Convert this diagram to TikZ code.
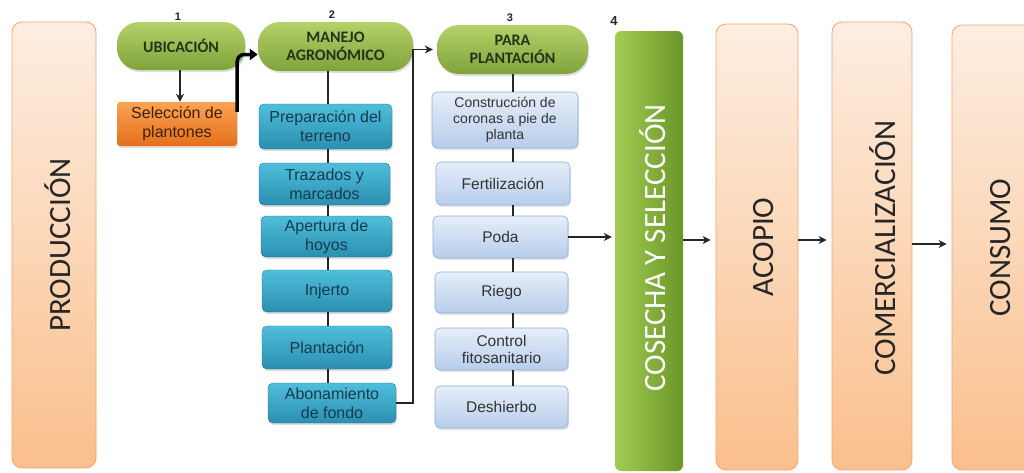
\documentclass[tikz,border=0pt]{standalone}
\usepackage{fontspec}
\setmainfont{Liberation Sans}
\newfontfamily\carl{Carlito}
\usetikzlibrary{arrows.meta,shadows}
\definecolor{peachT}{HTML}{FDEEE2}
\definecolor{peachB}{HTML}{FABF8C}
\definecolor{peachD}{HTML}{F2A66A}
\definecolor{greenT}{HTML}{B5D16A}
\definecolor{greenB}{HTML}{7FA33A}
\definecolor{greenTxt}{HTML}{26331A}
\definecolor{cosL}{HTML}{A3CC52}
\definecolor{cosR}{HTML}{6A962A}
\definecolor{orgT}{HTML}{F9A355}
\definecolor{orgB}{HTML}{E5701A}
\definecolor{tealT}{HTML}{4FBEDB}
\definecolor{tealB}{HTML}{2A8FB0}
\definecolor{tealTxt}{HTML}{173A4E}
\definecolor{lbT}{HTML}{E6EEF9}
\definecolor{lbB}{HTML}{B7CDEB}
\definecolor{lbD}{HTML}{8FAED6}
\tikzset{
  tall/.style={rectangle, rounded corners=10pt, draw=peachD, line width=0.8pt, top color=peachT, bottom color=peachB, minimum width=#1},
  bigtxt/.style={rotate=90, font=\carl\fontsize{31}{33}\selectfont, text=black!85},
  pill/.style={rectangle, rounded corners=22pt, top color=greenT, bottom color=greenB, font=\carl\bfseries\fontsize{16}{18}\selectfont, text=greenTxt, align=center, drop shadow={opacity=0.25, shadow xshift=1pt, shadow yshift=-2pt}},
  teal/.style={rectangle, rounded corners=5pt, top color=tealT, bottom color=tealB, draw=tealB!80!black, line width=0.4pt, font=\fontsize{16}{19}\selectfont, text=tealTxt, align=center, inner sep=2pt, drop shadow={opacity=0.25, shadow xshift=1pt, shadow yshift=-2pt}},
  lblue/.style={rectangle, rounded corners=5pt, top color=lbT, bottom color=lbB, draw=lbD, line width=0.6pt, font=\fontsize{15.5}{17}\selectfont, text=black!80, align=center, inner sep=2pt, drop shadow={opacity=0.2, shadow xshift=1pt, shadow yshift=-2pt}},
  orgbox/.style={rectangle, rounded corners=3pt, top color=orgT, bottom color=orgB, font=\fontsize{16}{19}\selectfont, text=black!75!orange, align=center, inner sep=2pt, drop shadow={opacity=0.25, shadow xshift=1pt, shadow yshift=-2pt}},
  num/.style={font=\bfseries\fontsize{11}{12}\selectfont, text=black!85},
  conn/.style={line width=1.5pt, draw=black!85},
  arr/.style={line width=1.5pt, draw=black!85, -{Stealth[length=8pt,width=8pt,inset=2.5pt]}},
}
\begin{document}
\begin{tikzpicture}[x=1pt,y=-1pt]
\useasboundingbox (0,0) rectangle (1024,472);
\fill[white] (0,0) rectangle (1024,472);
\clip (0,0) rectangle (1024,472);

% tall boxes
\node[tall=84pt, minimum height=446pt] (prod) at (54,245) {};
\node[bigtxt] (prodl) at (58,245) {PRODUCCIÓN};
\node[rectangle, rounded corners=6pt, left color=cosL, right color=cosR, minimum width=68pt, minimum height=440pt] (cos) at (649,251) {};
\node[bigtxt, text=white] (cosl) at (653,248) {COSECHA Y SELECCIÓN};
\node[tall=82pt, minimum height=446pt] (aco) at (757,247) {};
\node[bigtxt] (acol) at (764,247) {ACOPIO};
\node[tall=80pt, minimum height=448pt] (com) at (872,246) {};
\node[bigtxt] (coml) at (883,248) {COMERCIALIZACIÓN};
\node[tall=90pt, minimum height=445pt] (con) at (997,247.5) {};
\node[bigtxt] (conl) at (1001,247.5) {CONSUMO};

% column 1
\node[pill, minimum width=128pt, minimum height=48pt] (ubi) at (181,46) {UBICACIÓN};
\node[orgbox, minimum width=120pt, minimum height=44pt] (sel) at (177,124) {Selección de\\plantones};
\node[num] (n1) at (178,17) {1};

% column 2
\node[pill, minimum width=155pt, minimum height=49pt] (man) at (335.5,46.5) {MANEJO\\AGRONÓMICO};
\node[num] (n2) at (332,15) {2};
\node[teal, minimum width=133pt, minimum height=45pt] (prep) at (325.5,126.5) {Preparación del\\terreno};
\node[teal, minimum width=131pt, minimum height=42pt] (traz) at (324.5,184) {Trazados y\\marcados};
\node[teal, minimum width=131pt, minimum height=41pt] (aper) at (326.5,236.5) {Apertura de\\hoyos};
\node[teal, minimum width=130pt, minimum height=42pt] (inj) at (327,291) {Injerto};
\node[teal, minimum width=130pt, minimum height=43pt] (plan) at (327,347.5) {Plantación};
\node[teal, minimum width=128pt, minimum height=40pt] (abon) at (332,403) {Abonamiento\\de fondo};

% column 3
\node[pill, minimum width=151pt, minimum height=49pt] (para) at (512.5,49.5) {PARA\\PLANTACIÓN};
\node[num] (n3) at (510,18) {3};
\node[num, font=\bfseries\fontsize{13}{14}\selectfont] (n4) at (614,21) {4};
\node[lblue, minimum width=146pt, minimum height=56pt, font=\fontsize{14}{16}\selectfont] (cons) at (505,120) {Construcción de\\coronas a pie de\\planta};
\node[lblue, minimum width=134pt, minimum height=43pt] (fert) at (503,183.5) {Fertilización};
\node[lblue, minimum width=135pt, minimum height=42pt] (poda) at (500.5,237) {Poda};
\node[lblue, minimum width=133pt, minimum height=41pt] (riego) at (501.5,292.5) {Riego};
\node[lblue, minimum width=133pt, minimum height=42pt] (ctrl) at (501.5,349) {Control\\fitosanitario};
\node[lblue, minimum width=133pt, minimum height=42pt] (desh) at (501.5,407) {Deshierbo};

% connectors column 2
\coordinate (mx) at (328,0);
\draw[conn] (man.south -| mx) -- (prep.north -| mx);
\draw[conn] (prep.south -| mx) -- (traz.north -| mx);
\draw[conn] (traz.south -| mx) -- (aper.north -| mx);
\draw[conn] (aper.south -| mx) -- (inj.north -| mx);
\draw[conn] (inj.south -| mx) -- (plan.north -| mx);
\draw[conn] (plan.south -| mx) -- (abon.north -| mx);
% connectors column 3
\coordinate (px) at (513,0);
\draw[conn] (para.south -| px) -- (cons.north -| px);
\draw[conn] (cons.south -| px) -- (fert.north -| px);
\draw[conn] (fert.south -| px) -- (poda.north -| px);
\draw[conn] (poda.south -| px) -- (riego.north -| px);
\draw[conn] (riego.south -| px) -- (ctrl.north -| px);
\draw[conn] (ctrl.south -| px) -- (desh.north -| px);

% arrows
\draw[arr] (ubi.south -| 180,0) -- (sel.north -| 180,0);
\draw[line width=3.5pt, rounded corners=7pt, -{Triangle[length=8pt,width=11pt]}] ([yshift=-10pt]sel.north east) |- ([yshift=-8pt]man.west);
\draw[arr, shorten >=4pt] (abon.east) -| ([xshift=-24pt]para.west) -- (para.west);
\draw[arr, shorten >=3pt] (poda.east) -- (poda.east -| cos.west);
\draw[arr, shorten >=5pt] (cos.east |- 0,240) -- (aco.west |- 0,240);
\draw[arr, shorten >=5pt] (aco.east |- 0,240) -- (com.west |- 0,240);
\draw[arr, shorten >=5pt] (com.east |- 0,244) -- (con.west |- 0,244);
\end{tikzpicture}
\end{document}
